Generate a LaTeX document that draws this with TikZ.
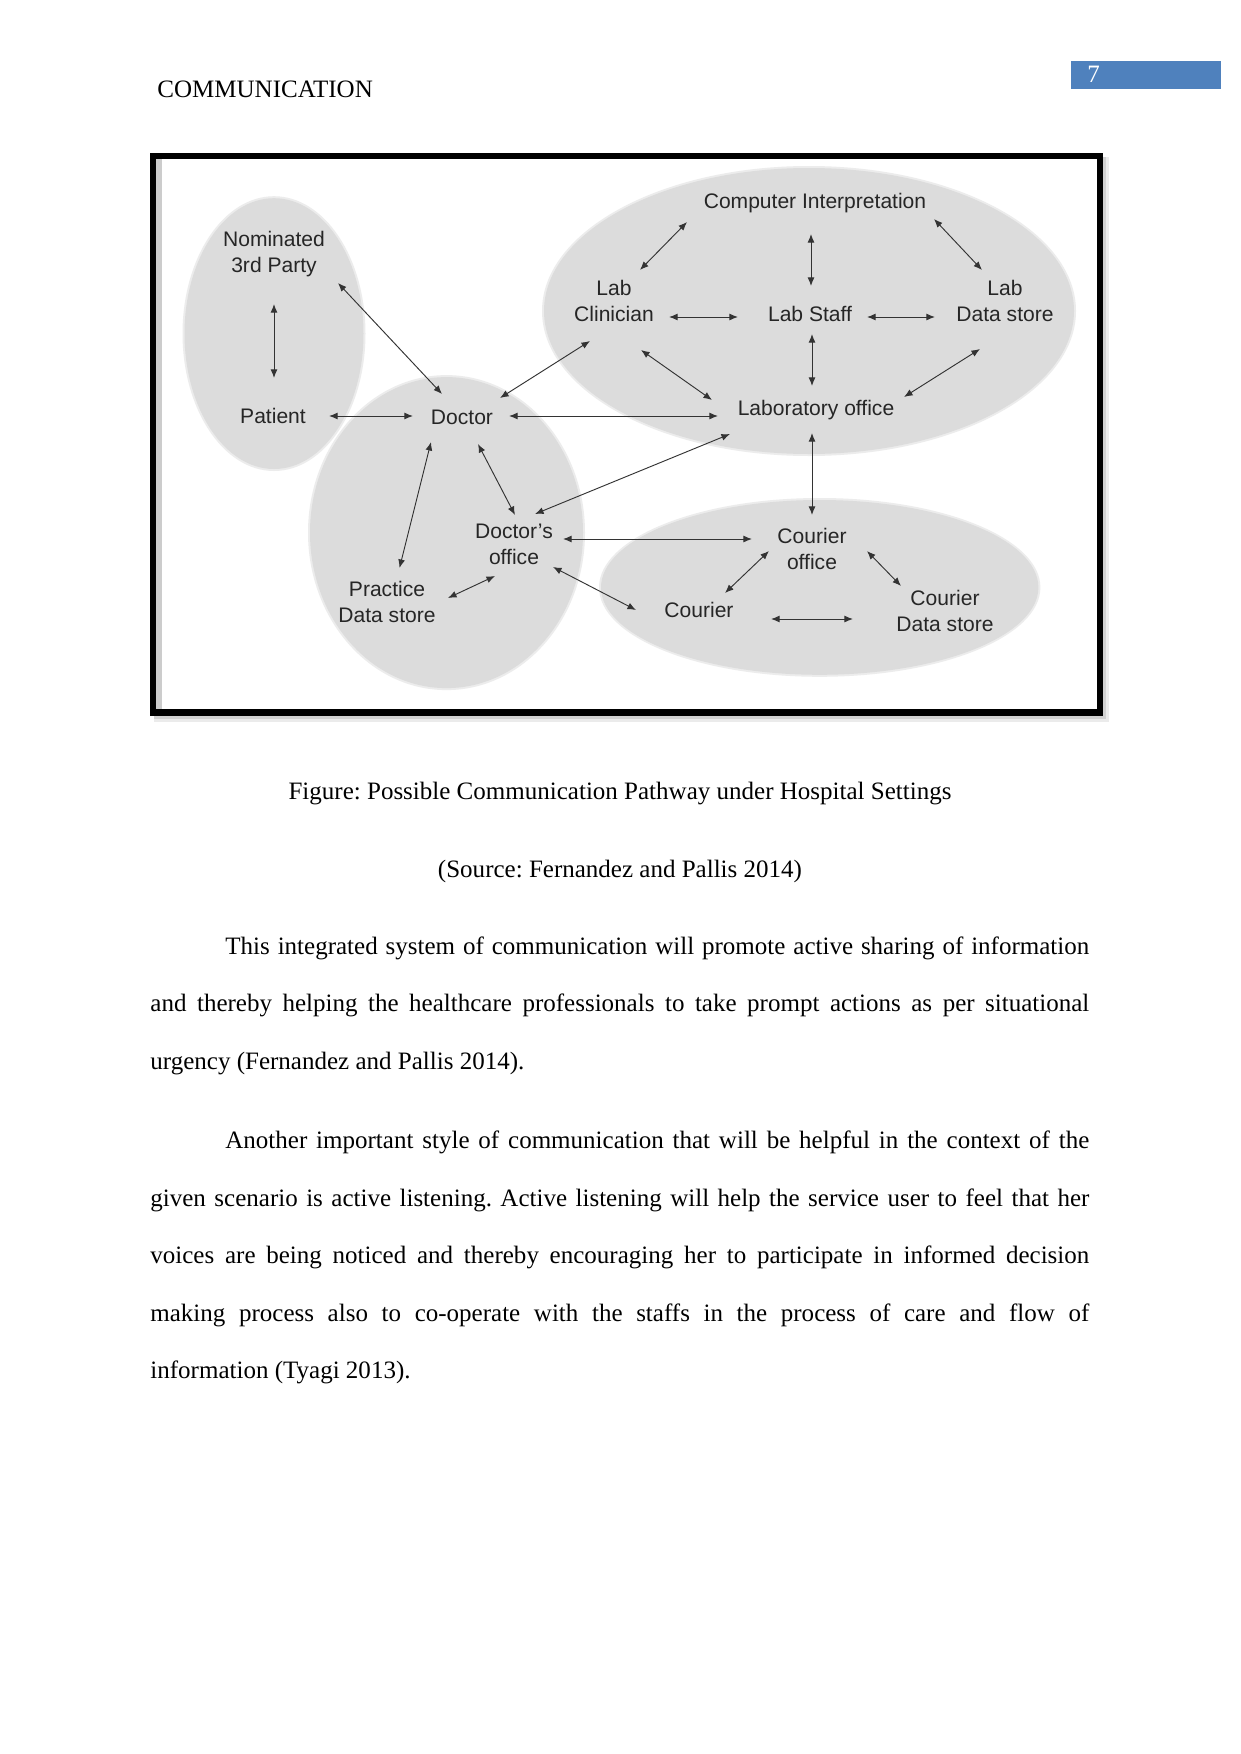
\documentclass[tikz,border=0pt]{standalone}
\usepackage{fontspec}
\setmainfont{Liberation Serif}
\newfontfamily\diagfont{Liberation Sans}
\usetikzlibrary{arrows.meta}
\definecolor{blobgray}{HTML}{DCDCDC}
\definecolor{pagebox}{HTML}{4F81BD}
\definecolor{linkgray}{HTML}{333333}
\newcommand{\fullline}[1]{\makebox[450.4pt][s]{#1}}
\newcommand{\firstline}[1]{\makebox[414.4pt][s]{#1}}
\frenchspacing

\begin{document}
\begin{tikzpicture}[x=0.4797pt,y=-0.4797pt,
  every node/.style={inner sep=0pt},
  lbl/.style={font=\diagfont\fontsize{10.1}{12.6}\selectfont,align=center,text=black!85},
  blob/.style={fill=blobgray},
  link/.style={{Latex[length=4.1pt,width=3.3pt]}-{Latex[length=4.1pt,width=3.3pt]},linkgray,line width=0.45pt},
  body/.style={font=\fontsize{12}{14}\selectfont,anchor=base west},
  captext/.style={font=\fontsize{12}{14}\selectfont,anchor=base}]
\useasboundingbox (0,0) rectangle (1241,1754);

% header
\node[body] (head) at (157,98) {COMMUNICATION};
\fill[pagebox] (1071,61) rectangle (1221,88.7);
\node[body,text=white] (pgnum) at (1087,82.7) {7};

% figure frame
\fill[black!8] (154,157) rectangle (1109,722);
\fill[black!18] (154,157) rectangle (1106,719);
\fill[white] (153,156) rectangle (1100,712.5);
\fill[black!20] (156,159) rectangle (162,709);
\draw[line width=2.9pt] (153,156) rectangle (1100,712.5);

% groups
\fill[blobgray!55] (274,333.6) ellipse [x radius=91.5, y radius=137.4];
\fill[blobgray!55] (446.5,532.6) ellipse [x radius=138.5, y radius=157.5];
\fill[blobgray!55] (809,311) ellipse [x radius=267, y radius=145];
\fill[blobgray!55] (819.7,587.4) ellipse [x radius=220.7, y radius=89.4];
\fill[blob] (274,333.6) ellipse [x radius=89.5, y radius=135.4];
\fill[blob] (446.5,532.6) ellipse [x radius=136.5, y radius=155.5];
\fill[blob] (809,311) ellipse [x radius=265, y radius=143];
\fill[blob] (819.7,587.4) ellipse [x radius=218.7, y radius=87.4];

% actors
\node[lbl] (nom) at (274,254) {Nominated\\3rd Party};
\node[lbl] (pat) at (273,416) {Patient};
\node[lbl] (doc) at (462,417) {Doctor};
\node[lbl] (comp) at (815,203) {Computer Interpretation};
\node[lbl] (labc) at (614,301) {Lab\\Clinician};
\node[lbl] (labs) at (810,314) {Lab Staff};
\node[lbl] (labd) at (1005,301) {Lab\\Data store};
\node[lbl] (labo) at (816,410) {Laboratory office};
\node[lbl] (doco) at (514,544) {Doctor’s\\office};
\node[lbl] (couo) at (812,549) {Courier\\office};
\node[lbl] (prac) at (387,602) {Practice\\Data store};
\node[lbl] (cour) at (699,610) {Courier};
\node[lbl] (coud) at (945,611) {Courier\\Data store};

% pathways
\draw[link] ([shift={(0,50)}]nom.center) -- ([shift={(1,-38)}]pat.center);
\draw[link] ([shift={(64,29)}]nom.center) -- ([shift={(-20,-23)}]doc.center);
\draw[link] ([shift={(56,0)}]pat.center) -- ([shift={(-49,-1)}]doc.center);
\draw[link] ([shift={(38,-19)}]doc.center) -- ([shift={(-24,40)}]labc.center);
\draw[link] ([shift={(47,-1)}]doc.center) -- ([shift={(-98,6)}]labo.center);
\draw[link] ([shift={(-31,25)}]doc.center) -- ([shift={(12.5,-34)}]prac.center);
\draw[link] ([shift={(16,27)}]doc.center) -- ([shift={(1,-29)}]doco.center);
\draw[link] ([shift={(21,-30)}]doco.center) -- ([shift={(-86,24)}]labo.center);
\draw[link] ([shift={(49,-5)}]doco.center) -- ([shift={(-60,-10)}]couo.center);
\draw[link] ([shift={(39,23)}]doco.center) -- ([shift={(-63,0)}]cour.center);
\draw[link] ([shift={(61,-4)}]prac.center) -- ([shift={(-19,32)}]doco.center);
\draw[link] ([shift={(-128,19)}]comp.center) -- ([shift={(26,-31)}]labc.center);
\draw[link] ([shift={(-4,31)}]comp.center) -- ([shift={(1,-28)}]labs.center);
\draw[link] ([shift={(119,16)}]comp.center) -- ([shift={(-23,-31)}]labd.center);
\draw[link] ([shift={(55,16)}]labc.center) -- ([shift={(-72,3)}]labs.center);
\draw[link] ([shift={(57,3)}]labs.center) -- ([shift={(-70,16)}]labd.center);
\draw[link] ([shift={(27,49)}]labc.center) -- ([shift={(-104,-10)}]labo.center);
\draw[link] ([shift={(2,20)}]labs.center) -- ([shift={(-4,-24)}]labo.center);
\draw[link] ([shift={(-25,48)}]labd.center) -- ([shift={(88,-13)}]labo.center);
\draw[link] ([shift={(-4,23)}]labo.center) -- ([shift={(0,-34)}]couo.center);
\draw[link] ([shift={(-43,2)}]couo.center) -- ([shift={(26,-17)}]cour.center);
\draw[link] ([shift={(55,2)}]couo.center) -- ([shift={(-44,-25)}]coud.center);
\draw[link] ([shift={(72,9)}]cour.center) -- ([shift={(-92,8)}]coud.center);

% caption
\node[captext] (figcap) at (620,799) {Figure: Possible Communication Pathway under Hospital Settings};
\node[captext] (src) at (620,877) {(Source: Fernandez and Pallis 2014)};

% body text
\node[body] (p1a) at (225,954) {\firstline{This integrated system of communication will promote active sharing of information}};
\node[body] (p1b) at (150,1011.5) {\fullline{and thereby helping the healthcare professionals to take prompt actions as per situational}};
\node[body] (p1c) at (150,1069) {urgency (Fernandez and Pallis 2014).};
\node[body] (p2a) at (225,1148.5) {\firstline{Another important style of communication that will be helpful in the context of the}};
\node[body] (p2b) at (150,1206) {\fullline{given scenario is active listening. Active listening will help the service user to feel that her}};
\node[body] (p2c) at (150,1263.5) {\fullline{voices are being noticed and thereby encouraging her to participate in informed decision}};
\node[body] (p2d) at (150,1321) {\fullline{making process also to co-operate with the staffs in the process of care and flow of}};
\node[body] (p2e) at (150,1378.5) {information (Tyagi 2013).};
\end{tikzpicture}
\end{document}
